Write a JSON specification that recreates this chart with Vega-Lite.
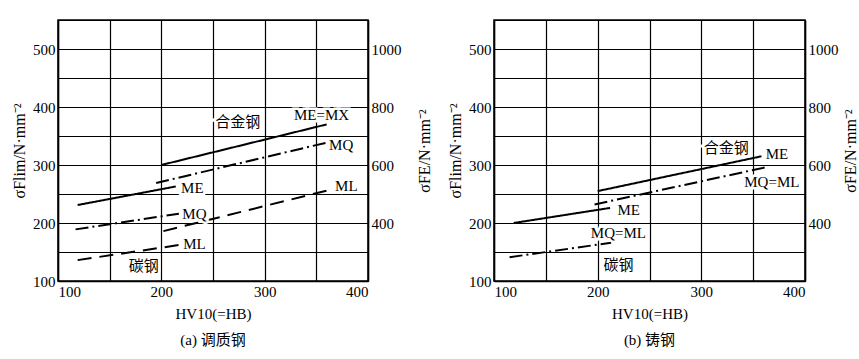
{
  "$schema": "https://vega.github.io/schema/vega-lite/v6.json",
  "padding": {"left": 10, "top": 19, "right": 3, "bottom": 5},
  "spacing": 13,
  "datasets": {
    "lines": [
      {"panel": "a", "id": "a_alloy_me", "style": "solid", "hv": 200, "s": 300},
      {"panel": "a", "id": "a_alloy_me", "style": "solid", "hv": 360, "s": 370},
      {"panel": "a", "id": "a_alloy_mq", "style": "dashdot", "hv": 195, "s": 269},
      {"panel": "a", "id": "a_alloy_mq", "style": "dashdot", "hv": 361, "s": 339},
      {"panel": "a", "id": "a_alloy_ml", "style": "dash", "hv": 202, "s": 186},
      {"panel": "a", "id": "a_alloy_ml", "style": "dash", "hv": 365, "s": 258},
      {"panel": "a", "id": "a_carbon_me", "style": "solid", "hv": 119, "s": 231},
      {"panel": "a", "id": "a_carbon_me", "style": "solid", "hv": 214, "s": 263},
      {"panel": "a", "id": "a_carbon_mq", "style": "dashdot", "hv": 117, "s": 189},
      {"panel": "a", "id": "a_carbon_mq", "style": "dashdot", "hv": 217, "s": 216},
      {"panel": "a", "id": "a_carbon_ml", "style": "dash", "hv": 119, "s": 136},
      {"panel": "a", "id": "a_carbon_ml", "style": "dash", "hv": 217, "s": 162},
      {"panel": "b", "id": "b_alloy_me", "style": "solid", "hv": 200, "s": 255},
      {"panel": "b", "id": "b_alloy_me", "style": "solid", "hv": 358, "s": 315},
      {"panel": "b", "id": "b_alloy_mqml", "style": "dashdot", "hv": 197, "s": 232},
      {"panel": "b", "id": "b_alloy_mqml", "style": "dashdot", "hv": 362, "s": 296},
      {"panel": "b", "id": "b_carbon_me", "style": "solid", "hv": 119, "s": 200},
      {"panel": "b", "id": "b_carbon_me", "style": "solid", "hv": 212, "s": 226},
      {"panel": "b", "id": "b_carbon_mqml", "style": "dashdot", "hv": 115, "s": 141},
      {"panel": "b", "id": "b_carbon_mqml", "style": "dashdot", "hv": 213, "s": 166}
    ],
    "labels": [
      {"panel": "a", "text": "合金钢", "hv": 274, "s": 374},
      {"panel": "a", "text": "ME=MX", "hv": 355, "s": 386},
      {"panel": "a", "text": "MQ", "hv": 374, "s": 335},
      {"panel": "a", "text": "ME", "hv": 230, "s": 261},
      {"panel": "a", "text": "ML", "hv": 379, "s": 263},
      {"panel": "a", "text": "MQ", "hv": 232, "s": 216},
      {"panel": "a", "text": "ML", "hv": 232, "s": 163},
      {"panel": "a", "text": "碳钢", "hv": 183, "s": 126},
      {"panel": "b", "text": "合金钢", "hv": 324, "s": 329},
      {"panel": "b", "text": "ME", "hv": 373, "s": 319},
      {"panel": "b", "text": "MQ=ML", "hv": 368, "s": 271},
      {"panel": "b", "text": "ME", "hv": 230, "s": 223},
      {"panel": "b", "text": "MQ=ML", "hv": 220, "s": 183},
      {"panel": "b", "text": "碳钢", "hv": 220, "s": 128}
    ],
    "right": [{"r": 400}]
  },
  "config": {
    "font": "Liberation Serif, Noto Sans CJK SC",
    "view": {"stroke": "black", "strokeWidth": 1.5},
    "axis": {
      "domainColor": "black", "domainWidth": 1.5,
      "gridColor": "black", "gridWidth": 1.2, "gridOpacity": 1,
      "labelColor": "black", "titleColor": "black",
      "labelFont": "Liberation Serif, Noto Sans CJK SC",
      "titleFont": "Liberation Serif, Noto Sans CJK SC",
      "labelFontSize": 15, "titleFontSize": 15, "titleFontWeight": "normal",
      "ticks": false, "labelPadding": 3
    },
    "title": {"font": "Liberation Serif, Noto Sans CJK SC", "fontSize": 15, "fontWeight": "normal", "color": "black"}
  },
  "hconcat": [
    {
      "width": 310, "height": 261,
      "title": {"text": "(a) 调质钢", "orient": "bottom", "offset": 12},
      "layer": [
        {
          "data": {"name": "lines"},
          "transform": [{"filter": "datum.panel === 'a'"}],
          "mark": {"type": "line", "color": "black", "strokeWidth": 2},
          "encoding": {
            "x": {"field": "hv", "type": "quantitative", "scale": {"domain": [100, 400], "nice": false, "zero": false},
                  "axis": {"values": [100, 150, 200, 250, 300, 350, 400], "labelExpr": "datum.value % 100 === 0 ? datum.label : ''", "grid": true, "title": "HV10(=HB)", "labelFlush": true, "titlePadding": 7}},
            "y": {"field": "s", "type": "quantitative", "scale": {"domain": [100, 550], "nice": false, "zero": false},
                  "axis": {"orient": "left", "values": [100, 150, 200, 250, 300, 350, 400, 450, 500, 550], "labelExpr": "datum.value % 100 === 0 && datum.value <= 500 ? datum.label : ''", "grid": true, "title": "σFlim/N·mm⁻²", "titleFontSize": 16, "titlePadding": 5}},
            "detail": {"field": "id"},
            "strokeDash": {"field": "style", "type": "nominal", "scale": {"domain": ["solid", "dashdot", "dash"], "range": [[1, 0], [13, 4, 2, 4], [14, 8]]}, "legend": null}
          }
        },
        {
          "data": {"name": "labels"},
          "transform": [{"filter": "datum.panel === 'a'"}],
          "mark": {"type": "text", "fontSize": 15, "color": "white", "stroke": "white", "strokeWidth": 5, "align": "center", "baseline": "middle"},
          "encoding": {
            "x": {"field": "hv", "type": "quantitative", "scale": {"domain": [100, 400], "nice": false, "zero": false}},
            "y": {"field": "s", "type": "quantitative", "scale": {"domain": [100, 550], "nice": false, "zero": false}, "axis": null},
            "text": {"field": "text"}
          }
        },
        {
          "data": {"name": "labels"},
          "transform": [{"filter": "datum.panel === 'a'"}],
          "mark": {"type": "text", "fontSize": 15, "color": "black", "align": "center", "baseline": "middle"},
          "encoding": {
            "x": {"field": "hv", "type": "quantitative", "scale": {"domain": [100, 400], "nice": false, "zero": false}},
            "y": {"field": "s", "type": "quantitative", "scale": {"domain": [100, 550], "nice": false, "zero": false}, "axis": null},
            "text": {"field": "text"}
          }
        },
        {
          "data": {"name": "right"},
          "mark": {"type": "rule", "opacity": 0},
          "encoding": {
            "y": {"field": "r", "type": "quantitative", "scale": {"domain": [200, 1100], "nice": false, "zero": false},
                  "axis": {"orient": "right", "values": [400, 600, 800, 1000], "format": "d", "grid": false, "title": "σFE/N·mm⁻²", "titleFontSize": 16, "titleAngle": 270, "titleBaseline": "top", "titlePadding": 15}}
          }
        }
      ],
      "resolve": {"scale": {"y": "independent"}}
    },
    {
      "width": 311, "height": 261,
      "title": {"text": "(b) 铸钢", "orient": "bottom", "offset": 12},
      "layer": [
        {
          "data": {"name": "lines"},
          "transform": [{"filter": "datum.panel === 'b'"}],
          "mark": {"type": "line", "color": "black", "strokeWidth": 2},
          "encoding": {
            "x": {"field": "hv", "type": "quantitative", "scale": {"domain": [100, 400], "nice": false, "zero": false},
                  "axis": {"values": [100, 150, 200, 250, 300, 350, 400], "labelExpr": "datum.value % 100 === 0 ? datum.label : ''", "grid": true, "title": "HV10(=HB)", "labelFlush": true, "titlePadding": 7}},
            "y": {"field": "s", "type": "quantitative", "scale": {"domain": [100, 550], "nice": false, "zero": false},
                  "axis": {"orient": "left", "values": [100, 150, 200, 250, 300, 350, 400, 450, 500, 550], "labelExpr": "datum.value % 100 === 0 && datum.value <= 500 ? datum.label : ''", "grid": true, "title": "σFlim/N·mm⁻²", "titleFontSize": 16, "titlePadding": 5}},
            "detail": {"field": "id"},
            "strokeDash": {"field": "style", "type": "nominal", "scale": {"domain": ["solid", "dashdot", "dash"], "range": [[1, 0], [13, 4, 2, 4], [14, 8]]}, "legend": null}
          }
        },
        {
          "data": {"name": "labels"},
          "transform": [{"filter": "datum.panel === 'b'"}],
          "mark": {"type": "text", "fontSize": 15, "color": "white", "stroke": "white", "strokeWidth": 5, "align": "center", "baseline": "middle"},
          "encoding": {
            "x": {"field": "hv", "type": "quantitative", "scale": {"domain": [100, 400], "nice": false, "zero": false}},
            "y": {"field": "s", "type": "quantitative", "scale": {"domain": [100, 550], "nice": false, "zero": false}, "axis": null},
            "text": {"field": "text"}
          }
        },
        {
          "data": {"name": "labels"},
          "transform": [{"filter": "datum.panel === 'b'"}],
          "mark": {"type": "text", "fontSize": 15, "color": "black", "align": "center", "baseline": "middle"},
          "encoding": {
            "x": {"field": "hv", "type": "quantitative", "scale": {"domain": [100, 400], "nice": false, "zero": false}},
            "y": {"field": "s", "type": "quantitative", "scale": {"domain": [100, 550], "nice": false, "zero": false}, "axis": null},
            "text": {"field": "text"}
          }
        },
        {
          "data": {"name": "right"},
          "mark": {"type": "rule", "opacity": 0},
          "encoding": {
            "y": {"field": "r", "type": "quantitative", "scale": {"domain": [200, 1100], "nice": false, "zero": false},
                  "axis": {"orient": "right", "values": [400, 600, 800, 1000], "format": "d", "grid": false, "title": "σFE/N·mm⁻²", "titleFontSize": 16, "titleAngle": 270, "titleBaseline": "top", "titlePadding": 4}}
          }
        }
      ],
      "resolve": {"scale": {"y": "independent"}}
    }
  ]
}
